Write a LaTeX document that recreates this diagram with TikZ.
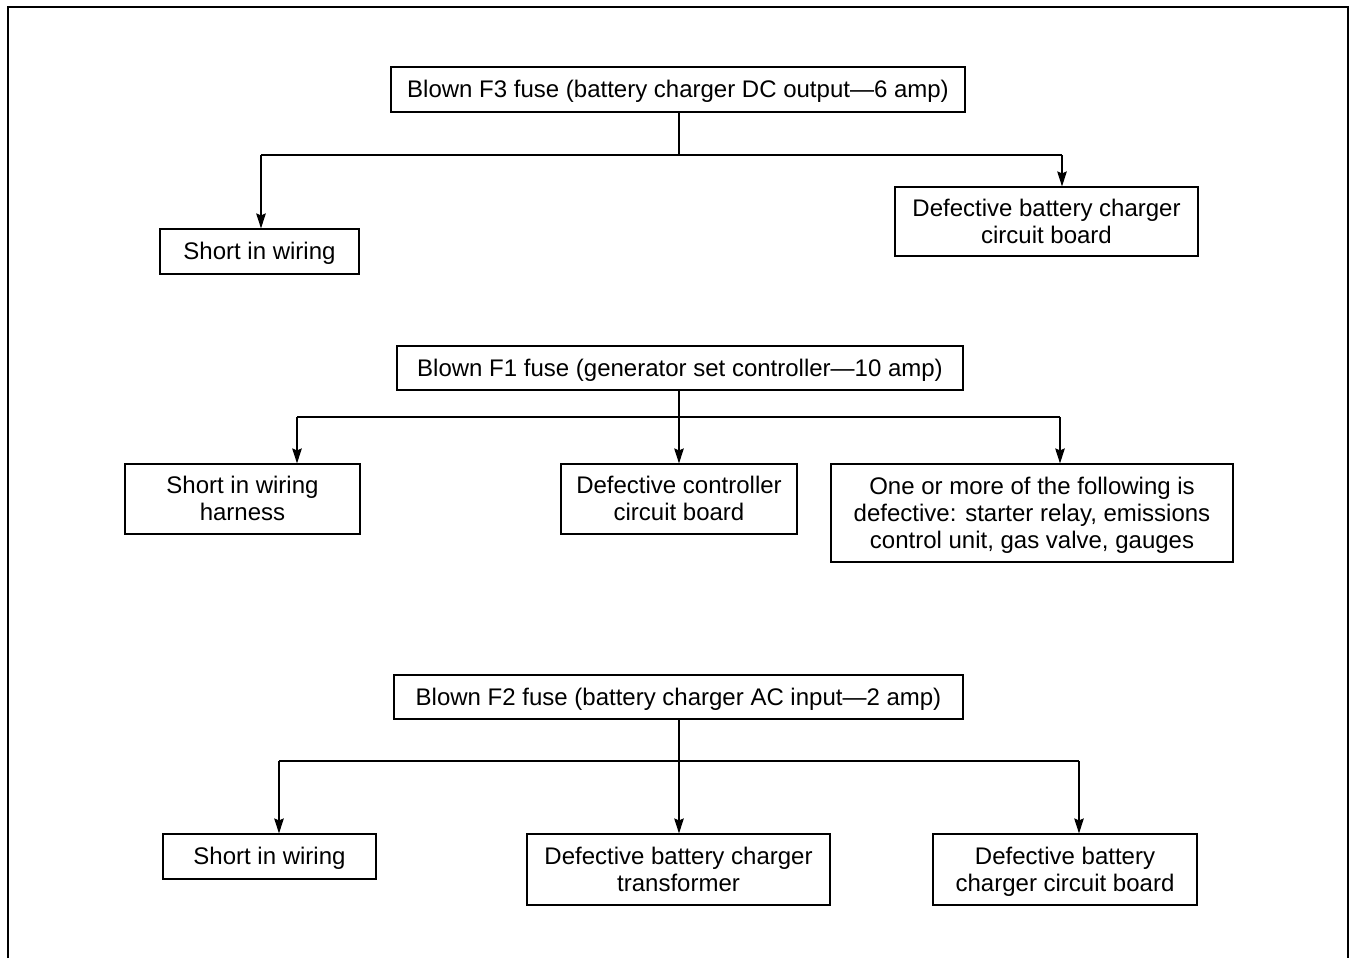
\documentclass[tikz,border=0pt]{standalone}
\usepackage{fontspec}
\setmainfont{Liberation Sans}
\usetikzlibrary{arrows.meta}
% box text: centred lines, set a little below the geometric centre
\newcommand\boxtext[1]{\raisebox{-1.3pt}[\height][\depth]{\begin{tabular}{@{}c@{}}#1\end{tabular}}}
\begin{document}
\begin{tikzpicture}[x=0.5pt,y=-0.5pt,
  box/.style 2 args={draw,line width=0.6pt,inner sep=0pt,
    minimum width=#1*0.5pt,minimum height=#2*0.5pt,
    font=\fontsize{12}{13.5}\selectfont},
  link/.style={line width=0.6pt},
  arr/.style={line width=0.6pt,-{Stealth[length=7.5pt,width=4.8pt,inset=1pt]}},
  frame/.style={line width=1.2pt}]
\useasboundingbox (0,0) rectangle (1353,958);
% outer frame, open at the bottom
\draw[frame] (8,958) -- (8,7) -- (1348,7) -- (1348,958);

% ---- F3 fuse ----
\node[box={574}{45}] (f3) at (678,89.5) {\boxtext{Blown F3 fuse (battery charger DC output---6 amp)}};
\node[box={199}{45}] (f3a) at (259.5,251.5) {\boxtext{Short in wiring}};
\node[box={303}{69}] (f3b) at (1046.5,221.5) {\boxtext{Defective battery charger\\circuit board}};
\coordinate (f3j) at (679,155);
\coordinate (f3l) at (261,155);
\coordinate (f3r) at (1062,155);
\draw[link] (f3j |- f3.south) -- (f3j);
\draw[link] (f3l) -- (f3r);
\draw[arr] (f3l) -- (f3l |- f3a.north);
\draw[arr] (f3r) -- (f3r |- f3b.north);

% ---- F1 fuse ----
\node[box={566}{44}] (f1) at (680,368) {\boxtext{Blown F1 fuse (generator set controller---10 amp)}};
\node[box={235}{70}] (f1a) at (242.5,499) {\boxtext{Short in wiring\\harness}};
\node[box={236}{70}] (f1b) at (679,499) {\boxtext{Defective controller\\circuit board}};
\node[box={402}{98}] (f1c) at (1032,513) {\boxtext{One or more of the following is\\defective: starter relay, emissions\\control unit, gas valve, gauges}};
\coordinate (f1j) at (679,417);
\coordinate (f1l) at (297,417);
\coordinate (f1r) at (1060,417);
\draw[link] (f1l) -- (f1r);
\draw[arr] (f1j |- f1.south) -- (f1j |- f1b.north);
\draw[arr] (f1l) -- (f1l |- f1a.north);
\draw[arr] (f1r) -- (f1r |- f1c.north);

% ---- F2 fuse ----
\node[box={569}{44}] (f2) at (678.5,697) {\boxtext{Blown F2 fuse (battery charger AC input---2 amp)}};
\node[box={213}{45}] (f2a) at (269.5,856.5) {\boxtext{Short in wiring}};
\node[box={303}{71}] (f2b) at (678.5,869.5) {\boxtext{Defective battery charger\\transformer}};
\node[box={264}{71}] (f2c) at (1065,869.5) {\boxtext{Defective battery\\charger circuit board}};
\coordinate (f2j) at (679,761);
\coordinate (f2l) at (279,761);
\coordinate (f2r) at (1079,761);
\draw[link] (f2l) -- (f2r);
\draw[arr] (f2j |- f2.south) -- (f2j |- f2b.north);
\draw[arr] (f2l) -- (f2l |- f2a.north);
\draw[arr] (f2r) -- (f2r |- f2c.north);
\end{tikzpicture}
\end{document}
